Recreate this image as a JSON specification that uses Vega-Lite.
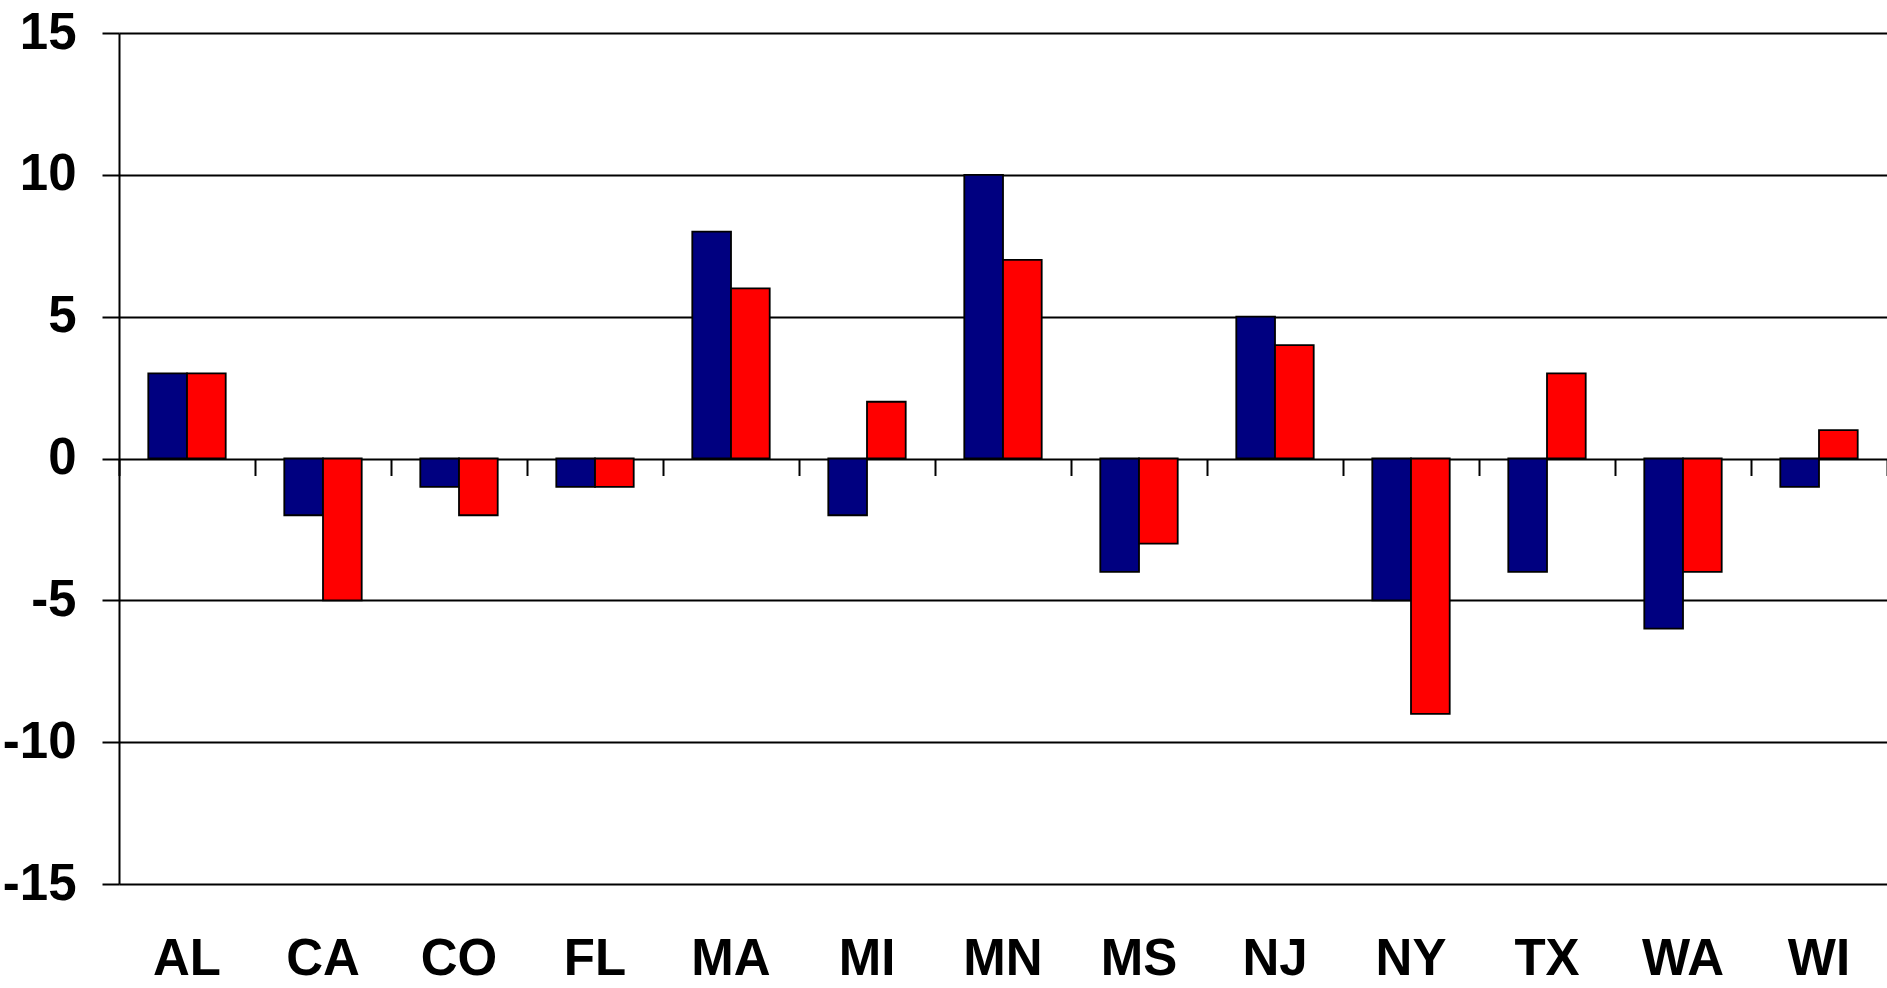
{
  "$schema": "https://vega.github.io/schema/vega-lite/v6.json",
  "width": 1768,
  "height": 851,
  "autosize": "none",
  "padding": {"left": 119, "top": 33, "right": 0, "bottom": 104},
  "background": "white",
  "config": {"view": {"stroke": null}, "font": "Liberation Sans"},
  "data": {
    "values": [
      {"state": "AL", "series": "A", "value": 3},
      {"state": "AL", "series": "B", "value": 3},
      {"state": "CA", "series": "A", "value": -2},
      {"state": "CA", "series": "B", "value": -5},
      {"state": "CO", "series": "A", "value": -1},
      {"state": "CO", "series": "B", "value": -2},
      {"state": "FL", "series": "A", "value": -1},
      {"state": "FL", "series": "B", "value": -1},
      {"state": "MA", "series": "A", "value": 8},
      {"state": "MA", "series": "B", "value": 6},
      {"state": "MI", "series": "A", "value": -2},
      {"state": "MI", "series": "B", "value": 2},
      {"state": "MN", "series": "A", "value": 10},
      {"state": "MN", "series": "B", "value": 7},
      {"state": "MS", "series": "A", "value": -4},
      {"state": "MS", "series": "B", "value": -3},
      {"state": "NJ", "series": "A", "value": 5},
      {"state": "NJ", "series": "B", "value": 4},
      {"state": "NY", "series": "A", "value": -5},
      {"state": "NY", "series": "B", "value": -9},
      {"state": "TX", "series": "A", "value": -4},
      {"state": "TX", "series": "B", "value": 3},
      {"state": "WA", "series": "A", "value": -6},
      {"state": "WA", "series": "B", "value": -4},
      {"state": "WI", "series": "A", "value": -1},
      {"state": "WI", "series": "B", "value": 1}
    ]
  },
  "layer": [
    {
      "mark": {"type": "bar", "stroke": "black", "strokeWidth": 1.8},
      "encoding": {
        "x": {
          "field": "state",
          "type": "nominal",
          "sort": null,
          "scale": {"paddingInner": 0, "paddingOuter": 0},
          "axis": {
            "orient": "bottom",
            "domain": false,
            "ticks": false,
            "tickSize": 0,
            "grid": false,
            "labelAngle": 0,
            "labelFontSize": 51,
            "labelFontWeight": "bold",
            "labelColor": "black",
            "labelPadding": 50,
            "title": null
          }
        },
        "xOffset": {
          "field": "series",
          "type": "nominal",
          "scale": {"paddingInner": 0, "paddingOuter": 0.757}
        },
        "y": {
          "field": "value",
          "type": "quantitative",
          "scale": {"domain": [-15, 15], "nice": false},
          "axis": {
            "values": [-15, -10, -5, 0, 5, 10, 15],
            "labelExpr": "'' + datum.value",
            "grid": true,
            "gridColor": "black",
            "gridWidth": 2,
            "gridOpacity": 1,
            "domainColor": "black",
            "domainWidth": 2,
            "tickColor": "black",
            "tickWidth": 2,
            "tickSize": 17,
            "labelFontSize": 51,
            "labelFontWeight": "bold",
            "labelColor": "black",
            "labelPadding": 26,
            "title": null
          }
        },
        "color": {
          "field": "series",
          "type": "nominal",
          "scale": {"domain": ["A", "B"], "range": ["#000080", "#FF0000"]},
          "legend": null
        }
      }
    },
    {
      "mark": {"type": "point", "opacity": 0},
      "encoding": {
        "x": {
          "field": "state",
          "type": "nominal",
          "sort": null,
          "axis": {
            "orient": "bottom",
            "offset": -425.5,
            "labels": false,
            "domain": false,
            "ticks": true,
            "tickSize": 17,
            "tickWidth": 2,
            "tickColor": "black",
            "tickBand": "extent",
            "grid": false,
            "title": null
          }
        }
      }
    }
  ],
  "resolve": {"axis": {"x": "independent"}}
}
